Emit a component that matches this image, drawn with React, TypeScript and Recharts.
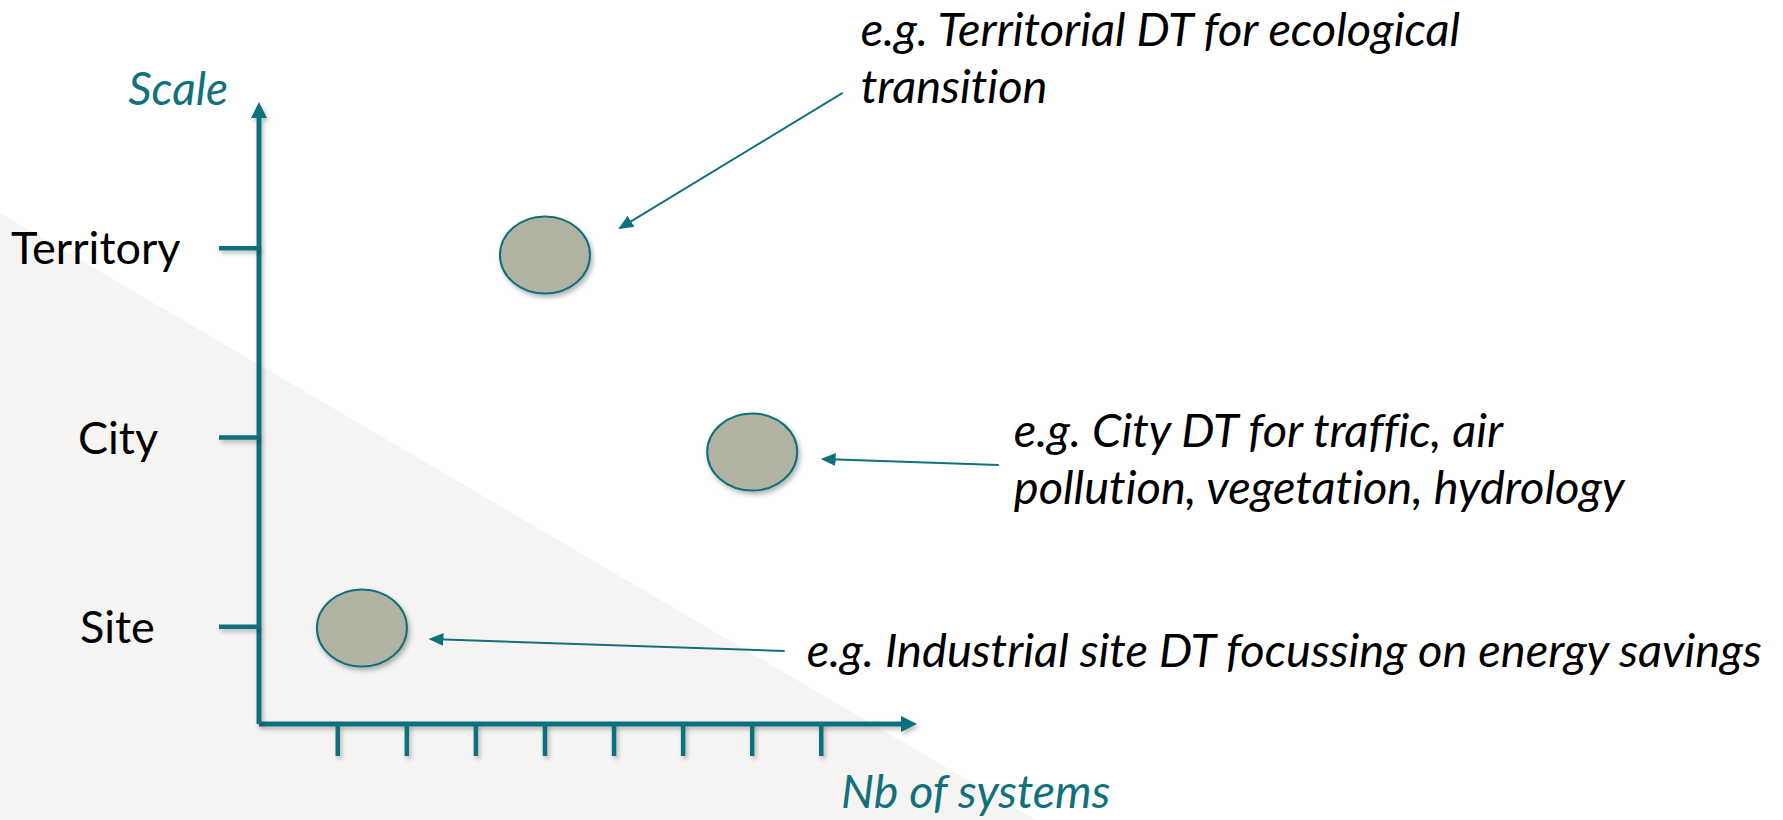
import React from "react"
import { ScatterChart, Scatter, XAxis, YAxis, ReferenceLine, ReferenceDot } from "recharts"

// scale levels on the vertical axis (value 1..3)
const scaleLevels = ["Site", "City", "Territory"]
const scaleTicks = [1, 2, 3]
const systemTicks = [1, 2, 3, 4, 5, 6, 7, 8]

// the three example digital twins
const bubbleNames = ["Territory", "City", "Site"]
const bubbleSystems = [4.0, 7.0, 1.35]
const bubbleScales = [2.965, 1.923, 0.993]

// callouts: text lines + arrow from (fromX, fromY) to (toX, toY), in axis units
const calloutText = [
  ["e.g. Territorial DT for ecological", "transition"],
  ["e.g. City DT for traffic, air", "pollution, vegetation, hydrology"],
  ["e.g. Industrial site DT focussing on energy savings"],
]
const calloutFromX = [8.31, 10.57, 7.47]
const calloutFromY = [3.821, 1.855, 0.872]
const calloutToX = [5.085, 8.02, 2.343]
const calloutToY = [3.107, 1.886, 0.935]

const TEAL = "#10717d"
const FONT = "Lato, 'Open Sans', sans-serif"
const noLig = { fontVariantLigatures: "none" as const }

// text offsets from the arrow start (px)
const calloutDx = [18, 15, 22]
const calloutDy = [-47, -18, 16]
const LINE_GAP = 57

// where each level name starts (px from the left)
const levelLabelX: Record<string, number> = { Territory: 11, City: 78, Site: 80 }

const bubbles = bubbleNames.map((name, i) => ({ name, x: bubbleSystems[i], y: bubbleScales[i] }))
const levelName = (v: number) => scaleLevels[v - 1] ?? ""

const Bubble = (props: any) => {
  const { cx, cy } = props
  if (cx == null || cy == null) return null
  return (
    <ellipse cx={cx} cy={cy} rx={45} ry={38.5} fill="#b1b2a1" stroke={TEAL} strokeWidth={2} filter="url(#softShadow)" />
  )
}

const LevelTick = (props: any) => {
  const { y, payload } = props
  const name = levelName(payload.value)
  return (
    <text x={levelLabelX[name] ?? 80} y={y + 16} fontFamily={FONT} fontSize={45} fill="#000" textAnchor="start" style={noLig}>
      {name}
    </text>
  )
}

const makeCallout = (i: number) => (props: any) => {
  const vb = props.viewBox || {}
  const x = (vb.x ?? 0) + calloutDx[i]
  const y = (vb.y ?? 0) + calloutDy[i]
  return (
    <text fontFamily={FONT} fontStyle="italic" fontSize={47} fill="#000" style={noLig}>
      {calloutText[i].map((line, k) => (
        <tspan key={k} x={x} y={y + k * LINE_GAP}>{line}</tspan>
      ))}
    </text>
  )
}

const lineStyle = { stroke: TEAL, filter: "url(#lineShadow)" }

export default function App() {
  return (
    <div style={{ position: "relative", width: 1783, height: 820, background: "#fff", overflow: "hidden" }}>
      <style>{`body{margin:0}`}</style>
      <svg width={1783} height={820} style={{ position: "absolute", left: 0, top: 0 }}>
        <defs>
          <marker id="axisArrow" markerUnits="userSpaceOnUse" markerWidth={16} markerHeight={16} viewBox="0 0 16 16" refX={8} refY={8} orient="auto-start-reverse">
            <path d="M0,0 L16,8 L0,16 z" fill={TEAL} />
          </marker>
          <marker id="calloutArrow" markerUnits="userSpaceOnUse" markerWidth={15} markerHeight={13} viewBox="0 0 15 13" refX={13} refY={6.5} orient="auto">
            <path d="M0,0 L15,6.5 L0,13 z" fill={TEAL} />
          </marker>
          <filter id="softShadow" x="-20%" y="-20%" width="150%" height="150%">
            <feDropShadow dx={2} dy={3} stdDeviation={2.5} floodColor="#000" floodOpacity={0.3} />
          </filter>
          <filter id="lineShadow" filterUnits="userSpaceOnUse" x={0} y={0} width={1783} height={820}>
            <feDropShadow dx={2} dy={3} stdDeviation={2} floodColor="#000" floodOpacity={0.25} />
          </filter>
        </defs>
        {/* light background wedge */}
        <polygon points="0,213 1036,820 0,820" fill="#f5f4f2" />
      </svg>
      <div style={{ position: "absolute", left: 0, top: 0 }}>
        <ScatterChart width={1783} height={820} margin={{ top: 110, right: 874, bottom: 0, left: 0 }}>
          <XAxis
            type="number"
            dataKey="x"
            domain={[-0.14, 9.27]}
            allowDataOverflow
            ticks={systemTicks}
            tickFormatter={() => ""}
            tickSize={32}
            height={96}
            axisLine={{ ...lineStyle, strokeWidth: 5, markerEnd: "url(#axisArrow)" }}
            tickLine={{ ...lineStyle, strokeWidth: 4.5 }}
            label={{
              content: (p: any) => (
                <text x={p.viewBox.x + 582} y={p.viewBox.y + 84} fontFamily={FONT} fontStyle="italic" fontSize={46.5} fill={TEAL} style={noLig}>
                  Nb of systems
                </text>
              ),
            }}
          />
          <YAxis
            type="number"
            dataKey="y"
            domain={[0.486, 3.731]}
            allowDataOverflow
            ticks={scaleTicks}
            tick={<LevelTick />}
            tickSize={40}
            width={259}
            axisLine={{ ...lineStyle, strokeWidth: 5, markerStart: "url(#axisArrow)" }}
            tickLine={{ ...lineStyle, strokeWidth: 4.5 }}
            label={{
              content: (p: any) => (
                <text x={p.viewBox.x + p.viewBox.width - 31} y={p.viewBox.y - 5} textAnchor="end" fontFamily={FONT} fontStyle="italic" fontSize={46} fill={TEAL} style={noLig}>
                  Scale
                </text>
              ),
            }}
          />
          {calloutText.map((_, i) => (
            <ReferenceLine
              key={`arrow-${i}`}
              segment={[
                { x: calloutFromX[i], y: calloutFromY[i] },
                { x: calloutToX[i], y: calloutToY[i] },
              ]}
              stroke={TEAL}
              strokeWidth={2}
              markerEnd="url(#calloutArrow)"
              ifOverflow="visible"
            />
          ))}
          {calloutText.map((_, i) => (
            <ReferenceDot
              key={`text-${i}`}
              x={calloutFromX[i]}
              y={calloutFromY[i]}
              r={0}
              fill="none"
              stroke="none"
              ifOverflow="visible"
              label={makeCallout(i)}
            />
          ))}
          <Scatter data={bubbles} shape={<Bubble />} isAnimationActive={false} />
        </ScatterChart>
      </div>
    </div>
  )
}
